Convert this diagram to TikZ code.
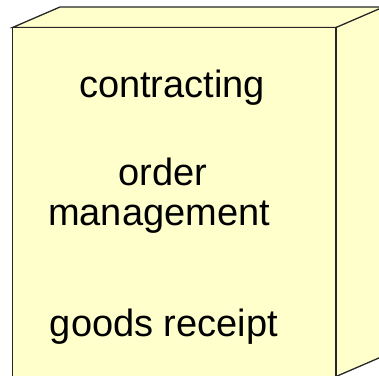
\documentclass[tikz,border=0pt]{standalone}
\usepackage{fontspec}
\setmainfont{Liberation Sans}
\begin{document}
\begin{tikzpicture}[x=1pt,y=1pt,
  face/.style={fill=boxfill,draw=black!85,line width=1.3pt,line join=miter},
  label/.style={anchor=base,inner sep=0pt,font=\fontsize{38}{40}\selectfont,text=black}]
\definecolor{boxfill}{HTML}{FFFFCC}
\useasboundingbox (0,0) rectangle (379,-375);
\begin{scope}
\clip (0,0) rectangle (379,-375);
% top face
\draw[face] (12.5,-27.5) -- (60,-7) -- (420,-7) -- (336,-27.5) -- cycle;
% right face
\draw[face] (336,-27.5) -- (383.5,-7) -- (383.5,-356) -- (336,-376.5) -- cycle;
% front face
\draw[face] (12.5,-27.5) rectangle (336,-390);
\end{scope}
\node[label] (contracting) at (172,-97.5) {contracting};
\node[label] (order) at (163,-185) {order};
\node[label] (management) at (159,-225) {management};
\node[label] (receipt) at (164,-336) {goods receipt};
\end{tikzpicture}
\end{document}
